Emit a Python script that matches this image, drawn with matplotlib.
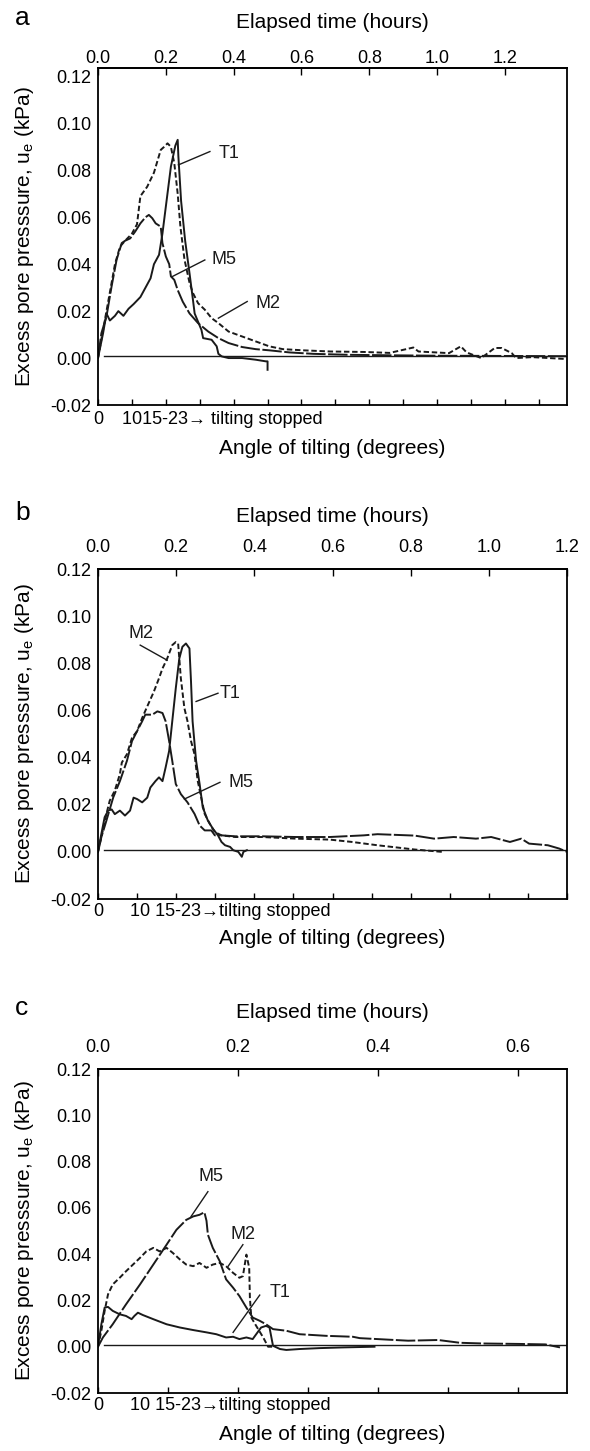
import matplotlib.pyplot as plt
import numpy as np

plt.rcParams['font.family'] = ['Liberation Sans', 'DejaVu Sans']
plt.rcParams['mathtext.default'] = 'regular'

# ---- data (elapsed time in hours, excess pore pressure in kPa) ----
# panel a
a_t1_t = [0, .015, .025, .035, .05, .06, .075, .09, .105, .125, .14, .155, .165, .18, .19, .20, .215,
          .228, .235, .237, .245, .257, .27, .28, .285, .305, .31, .335, .35, .355, .365, .385, .425,
          .465, .495, .50, .50]
a_t1_u = [0, .0106, .019, .016, .018, .020, .018, .021, .023, .026, .030, .034, .040, .044, .053, .0645,
          .0816, .0905, .093, .086, .067, .050, .036, .0248, .019, .012, .0085, .0078, .005, .0018, .0007,
          0, 0, -.0007, -.0014, -.0014, -.005]
a_m2_t = [0, .02, .035, .05, .065, .08, .10, .115, .125, .145, .165, .185, .195, .205, .215, .225, .235,
          .243, .255, .27, .28, .295, .315, .335, .355, .385, .425, .465, .505, .545, .605, .685, .785,
          .86, .93, .945, 1.035, 1.07, 1.087, 1.13, 1.17, 1.19, 1.22, 1.233, 1.28, 1.38]
a_m2_u = [0, .016, .028, .040, .0475, .050, .053, .057, .069, .073, .079, .0887, .090, .0915, .090, .083,
          .070, .056, .042, .032, .0277, .0234, .0206, .017, .0149, .0113, .0092, .0071, .005, .0038,
          .0033, .0028, .0026, .0022, .0045, .0028, .0021, .005, .0024, 0, .0043, .0043, .0021, 0, .0004,
          -.0004]
a_m5_t = [0, .01, .025, .04, .055, .07, .08, .095, .11, .125, .14, .15, .16, .17, .185, .19, .20, .21,
          .215, .225, .235, .25, .27, .295, .325, .355, .385, .425, .465, .505, .565, .635, .735, .85,
          1.0, 1.2, 1.38]
a_m5_u = [0, .0106, .0177, .0305, .042, .049, .050, .051, .054, .0574, .060, .061, .0596, .0574, .056,
          .049, .0433, .040, .0348, .0333, .029, .024, .019, .0149, .0113, .0085, .0064, .0047, .0038,
          .0033, .0024, .0018, .0014, .0012, .0010, .0009, .0008]

# panel b
b_t1_t = [0, .0087, .017, .026, .035, .043, .056, .069, .082, .091, .10, .113, .126, .134, .147, .156,
          .165, .173, .182, .19, .199, .208, .216, .225, .234, .238, .242, .251, .26, .268, .281, .294,
          .307, .316, .325, .338, .346, .359, .368, .372, .381]
b_t1_u = [0, .0077, .0147, .0175, .018, .016, .0175, .0154, .0175, .023, .0224, .021, .023, .0273, .030,
          .0316, .030, .0358, .0428, .0554, .0694, .082, .087, .0884, .0863, .0722, .0554, .0386, .0288,
          .0189, .0133, .0098, .007, .0042, .0028, .0021, .0007, 0, -.0021, 0, .0007]
b_m2_t = [0, .0087, .0216, .03, .043, .056, .061, .074, .087, .10, .113, .126, .143, .156, .165, .177,
          .19, .199, .205, .212, .221, .229, .238, .247, .255, .264, .273, .286, .299, .316, .351, .42,
          .506, .593, .65, .715, .81, .88]
b_m2_u = [0, .0063, .0161, .0217, .026, .033, .0379, .0414, .0484, .0512, .0568, .0617, .068, .0736,
          .0778, .082, .0877, .089, .0884, .0736, .061, .0554, .047, .0414, .0302, .0231, .0161, .0119,
          .0084, .007, .0063, .0063, .0056, .0052, .0042, .0028, .001, 0]
b_m5_t = [0, .0087, .0216, .039, .056, .074, .087, .10, .113, .121, .139, .152, .165, .173, .182, .19,
          .199, .212, .229, .247, .26, .273, .29, .299, .316, .351, .42, .506, .593, .68, .715, .81, .86,
          .91, .967, 1.006, 1.054, 1.083, 1.103, 1.151, 1.18, 1.2]
b_m5_u = [0, .0063, .0133, .0231, .030, .0386, .047, .0512, .0554, .0582, .0582, .0596, .0589, .0554,
          .047, .0386, .0288, .0245, .021, .0161, .0112, .0091, .0091, .007, .007, .0066, .0066, .0063,
          .0063, .007, .0075, .0069, .0056, .0063, .0056, .0063, .0042, .0056, .0035, .0028, .0014, 0]

# panel c
c_t1_t = [0, .0048, .0095, .0143, .021, .031, .04, .048, .052, .057, .064, .079, .098, .117, .136, .155,
          .169, .183, .193, .202, .212, .221, .226, .233, .24, .245, .25, .26, .269, .288, .317, .35, .395]
c_t1_u = [0, .0097, .0169, .0172, .0155, .014, .0133, .0119, .0133, .0147, .0137, .0119, .0097, .0083,
          .0072, .0062, .0054, .004, .0043, .0033, .004, .0033, .0054, .0083, .009, .0083, .0004, -.001,
          -.0014, -.001, -.0006, -.0003, 0]
c_m2_t = [0, .0048, .0095, .0143, .021, .031, .04, .05, .06, .069, .079, .088, .098, .107, .117, .126,
          .136, .145, .155, .164, .174, .183, .193, .202, .207, .212, .216, .217, .219, .226, .236, .243,
          .25]
c_m2_u = [0, .0069, .0155, .0226, .0269, .0298, .0326, .0355, .0384, .0412, .0427, .0412, .0427, .0405,
          .0377, .0355, .0348, .0362, .0341, .0355, .0362, .0348, .0319, .0298, .0305, .0398, .0341,
          .0212, .0126, .009, .004, 0, 0]
c_m5_t = [0, .007, .021, .04, .06, .079, .098, .112, .126, .136, .145, .152, .155, .157, .164, .174, .183,
          .193, .202, .212, .221, .231, .24, .25, .269, .288, .326, .364, .374, .443, .486, .517, .549,
          .602, .639, .66]
c_m5_u = [0, .004, .0097, .0183, .0269, .0355, .0441, .0505, .0548, .0563, .057, .0581, .0544, .0484,
          .0427, .0369, .0291, .0255, .0219, .0169, .0126, .0112, .0097, .0076, .0069, .0054, .0047,
          .0043, .0037, .0026, .0029, .0017, .0014, .0012, .001, -.0003]

# curve labels: (name, text x, text y, leader from, leader to)
a_notes = [('T1', .355, .0872, (.33, .088), (.237, .0823)),
           ('M5', .335, .0418, (.315, .0418), (.22, .0348)),
           ('M2', .465, .0234, (.44, .0241), (.355, .017))]
b_notes = [('M2', .078, .0926, (.108, .0877), (.177, .0813)),
           ('T1', .312, .0673, (.307, .0673), (.251, .0638)),
           ('M5', .333, .0295, (.312, .0295), (.221, .0224))]
c_notes = [('M5', .144, .0734, (.157, .067), (.133, .0563)),
           ('M2', .19, .0484, (.207, .0441), (.186, .0348)),
           ('T1', .245, .0233, (.231, .0223), (.193, .0062))]

y_ticks = [-0.02, 0.0, 0.02, 0.04, 0.06, 0.08, 0.10, 0.12]
y_labels = ['-0.02', '0.00', '0.02', '0.04', '0.06', '0.08', '0.10', '0.12']

W, H = 590, 1451
fig = plt.figure(figsize=(W / 100, H / 100), dpi=100)
ink = '#1a1a1a'

# layout in pixels: letter, top, bottom, xmax, ytop, top pad, title y, row y, xlabel y, row text x
panels = [
    ('a', 68, 405, 1.383, 0.1236, 1, 22, 420, 449, 122, '1015-23\u2192 tilting stopped',
     (a_t1_t, a_t1_u), (a_m2_t, a_m2_u), (a_m5_t, a_m5_u), a_notes),
    ('b', 569, 899, 1.2, 0.12, 9, 517, 912, 939, 130, '10 15-23\u2192tilting stopped',
     (b_t1_t, b_t1_u), (b_m2_t, b_m2_u), (b_m5_t, b_m5_u), b_notes),
    ('c', 1069, 1393, 0.67, 0.12, 9, 1012, 1406, 1434, 130, '10 15-23\u2192tilting stopped',
     (c_t1_t, c_t1_u), (c_m2_t, c_m2_u), (c_m5_t, c_m5_u), c_notes),
]

for (letter, top, bot, xmax, ytop, tpad, ty, ry, xly, rx, rowtxt, t1, m2, m5, notes) in panels:
    ax = fig.add_axes([98 / W, 1 - bot / H, 469 / W, (bot - top) / H])
    ax.axhline(0.0007, xmin=0.012, color=ink, lw=1.0)
    ax.plot(*t1, color=ink, lw=1.4)
    ax.plot(*m2, color=ink, lw=1.4, dashes=(2.8, 1.4))
    ax.plot(*m5, color=ink, lw=1.4, dashes=(10, 1.3))
    for name, tx, tyy, p0, p1 in notes:
        ax.plot([p0[0], p1[0]], [p0[1], p1[1]], color=ink, lw=1.0)
        ax.text(tx, tyy, name, fontsize=13, ha='left', va='center', color=ink)

    ax.set_xlim(0, xmax)
    ax.set_ylim(-0.02, ytop)
    ax.set_yticks(y_ticks, y_labels)
    ax.tick_params(axis='y', length=0, pad=5, labelsize=13)
    ax.set_xticks(np.arange(0, xmax + 1e-6, 0.1))
    ax.set_xticklabels([])
    ax.tick_params(axis='x', direction='in', length=4, width=1)
    for s in ax.spines.values():
        s.set_linewidth(1.3)

    sec = ax.secondary_xaxis('top')
    top_ticks = np.arange(0, xmax + 1e-6, 0.2)
    sec.set_xticks(top_ticks, ['%.1f' % v for v in top_ticks])
    sec.tick_params(direction='in', length=5, width=1, pad=tpad, labelsize=13)
    sec.spines['top'].set_linewidth(1.3)

    fig.text(15 / W, 1 - (ty - 4) / H, letter, fontsize=19, ha='left', va='center')
    fig.text(332 / W, 1 - ty / H, 'Elapsed time (hours)', fontsize=15, ha='center', va='center')
    fig.text(332 / W, 1 - xly / H, 'Angle of tilting (degrees)', fontsize=15, ha='center', va='center')
    fig.text(98 / W, 1 - ry / H, '0', fontsize=13, ha='center', va='center')
    fig.text(rx / W, 1 - ry / H, rowtxt, fontsize=13, ha='left', va='center')
    fig.text(25 / W, 1 - (top + bot) / 2 / H, 'Excess pore presssure, u$_e$ (kPa)',
             fontsize=15, rotation=90, ha='center', va='center')

fig.savefig('out.png', dpi=100)
